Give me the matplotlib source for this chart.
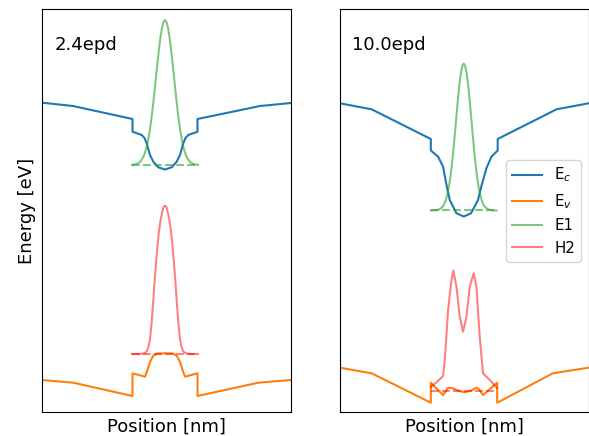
import matplotlib
matplotlib.use("Agg")
import matplotlib.pyplot as plt

# ---------------- data (position in nm, energy in eV) ----------------
titles = ["2.4epd", "10.0epd"]

# Left panel (2.4 epd)
ec_x_l = [0.0, 6.2, 18.1, 18.1, 19.94, 20.5, 20.94, 21.6, 22.26, 23.26, 24.6,
          25.94, 26.94, 27.6, 28.26, 28.7, 29.26, 31.1, 31.1, 43.6, 49.8]
ec_y_l = [3.083, 3.05, 2.92, 2.793, 2.76, 2.73, 2.677, 2.56, 2.493, 2.437, 2.415,
          2.437, 2.493, 2.56, 2.677, 2.73, 2.76, 2.793, 2.92, 3.05, 3.08]
ev_x_l = [0.0, 6.26, 18.1, 18.1, 20.6, 21.1, 21.6, 22.2, 23.0, 24.6, 26.2,
          27.0, 27.6, 28.1, 28.6, 31.1, 31.1, 43.26, 49.8]
ev_y_l = [0.31, 0.283, 0.15, 0.377, 0.343, 0.41, 0.49, 0.55, 0.575, 0.577, 0.575,
          0.55, 0.49, 0.41, 0.343, 0.377, 0.15, 0.283, 0.31]
wf_x_l = [18.0, 18.6, 19.2, 19.8, 20.4, 20.7, 21.0, 21.3, 21.6, 21.9, 22.2, 22.5,
          22.8, 23.1, 23.4, 23.7, 24.0, 24.3, 24.6, 24.9, 25.2, 25.5, 25.8, 26.1,
          26.4, 26.7, 27.0, 27.3, 27.6, 27.9, 28.2, 28.5, 28.8, 29.4, 30.0, 30.6, 31.2]
e1_l = [2.461, 2.466, 2.476, 2.500, 2.556, 2.599, 2.656, 2.730, 2.821, 2.931, 3.056, 3.194,
        3.340, 3.485, 3.621, 3.739, 3.832, 3.890, 3.910, 3.890, 3.832, 3.739, 3.621, 3.485,
        3.340, 3.194, 3.056, 2.931, 2.821, 2.730, 2.656, 2.599, 2.556, 2.500, 2.476, 2.466, 2.461]
h2_l = [0.570, 0.570, 0.570, 0.572, 0.577, 0.585, 0.600, 0.644, 0.718, 0.867, 1.059, 1.282,
        1.475, 1.653, 1.801, 1.905, 1.979, 2.038, 2.053, 2.038, 1.979, 1.905, 1.801, 1.653,
        1.475, 1.282, 1.059, 0.867, 0.718, 0.644, 0.600, 0.585, 0.577, 0.572, 0.570, 0.570, 0.570]
e1_level_l = 2.46
h2_level_l = 0.57

# Right panel (10.0 epd)
ec_x_r = [0.0, 6.34, 18.2, 18.2, 19.66, 20.66, 21.34, 22.0, 23.34, 24.8,
          26.26, 27.66, 28.4, 29.34, 30.34, 31.6, 31.6, 43.4, 49.8]
ec_y_r = [3.077, 3.017, 2.72, 2.605, 2.543, 2.443, 2.26, 2.11, 1.977, 1.945,
          1.977, 2.11, 2.26, 2.427, 2.543, 2.605, 2.72, 3.017, 3.077]
ev_x_r = [0.0, 6.34, 18.2, 18.2, 20.66, 21.66, 22.66, 23.6, 25.0, 26.3, 27.34,
          27.8, 28.66, 31.5, 31.5, 42.66, 49.8]
ev_y_r = [0.433, 0.377, 0.083, 0.283, 0.16, 0.233, 0.227, 0.205, 0.187, 0.205, 0.233,
          0.22, 0.16, 0.283, 0.083, 0.377, 0.433]
wf_x_r = [18.2, 18.8, 19.4, 20.0, 20.6, 20.9, 21.2, 21.5, 21.8, 22.1, 22.4, 22.7,
          23.0, 23.3, 23.6, 23.9, 24.2, 24.5, 24.8, 25.1, 25.4, 25.7, 26.0, 26.3,
          26.6, 26.9, 27.2, 27.5, 27.8, 28.1, 28.4, 28.7, 29.0, 29.6, 30.2, 30.8, 31.4]
e1_r = [2.005, 2.006, 2.009, 2.018, 2.045, 2.070, 2.108, 2.162, 2.236, 2.334, 2.455, 2.599,
        2.761, 2.931, 3.099, 3.250, 3.371, 3.448, 3.475, 3.448, 3.371, 3.250, 3.099, 2.931,
        2.761, 2.599, 2.455, 2.334, 2.236, 2.162, 2.108, 2.070, 2.045, 2.018, 2.009, 2.006, 2.005]
h2_x_r = [18.2, 19.4, 20.66, 21.0, 21.66, 22.34, 22.7, 23.34, 24.0, 24.66, 25.34,
          26.0, 26.8, 27.34, 28.0, 28.66, 30.34, 31.46]
h2_r = [0.24, 0.29, 0.35, 0.51, 1.01, 1.31, 1.405, 1.243, 0.943, 0.793, 0.943,
        1.243, 1.377, 1.243, 0.743, 0.377, 0.293, 0.23]
e1_level_r = 2.005
h2_level_r = 0.203

legend_labels = [r"E$_c$", r"E$_v$", "E1", "H2"]

# ---------------- figure ----------------
fig = plt.figure(figsize=(5.89, 4.36), dpi=100)
W, H = 589.0, 436.0
ax_l = fig.add_axes([42 / W, (436 - 412) / H, 249 / W, 402.5 / H])
ax_r = fig.add_axes([340 / W, (436 - 412) / H, 248.5 / W, 402.5 / H])

panels = [
    (ax_l, ec_x_l, ec_y_l, ev_x_l, ev_y_l, wf_x_l, e1_l, e1_level_l, wf_x_l, h2_l, h2_level_l),
    (ax_r, ec_x_r, ec_y_r, ev_x_r, ev_y_r, wf_x_r, e1_r, e1_level_r, h2_x_r, h2_r, h2_level_r),
]

for i, (ax, ecx, ecy, evx, evy, e1x, e1y, e1lev, h2x, h2y, h2lev) in enumerate(panels):
    l1, = ax.plot(ecx, ecy, color="#1f77b4", lw=1.5, label=legend_labels[0])
    l2, = ax.plot(evx, evy, color="#ff7f0e", lw=1.5, label=legend_labels[1])
    l3, = ax.plot(e1x, e1y, color="#2ca02c", alpha=0.6, lw=1.5, label=legend_labels[2])
    ax.plot([min(e1x), max(e1x)], [e1lev, e1lev], color="#2ca02c", alpha=0.6,
            lw=1.5, ls="--")
    l4, = ax.plot(h2x, h2y, color="red", alpha=0.5, lw=1.5, label=legend_labels[3])
    ax.plot([min(h2x), max(h2x)], [h2lev, h2lev], color="red", alpha=0.5,
            lw=1.5, ls="--")
    ax.set_xlim(0, 49.8)
    ax.set_ylim(-0.01, 4.015)
    ax.set_xticks([])
    ax.set_yticks([])
    ax.set_xlabel("Position [nm]", fontsize=13)
    ax.text(0.05, 0.9, titles[i], transform=ax.transAxes, fontsize=13)
    if i == 0:
        ax.set_ylabel("Energy [eV]", fontsize=13)
    else:
        ax.legend(handles=[l1, l2, l3, l4], loc="center right", fontsize=10.8)

fig.savefig("out.png", dpi=100)
